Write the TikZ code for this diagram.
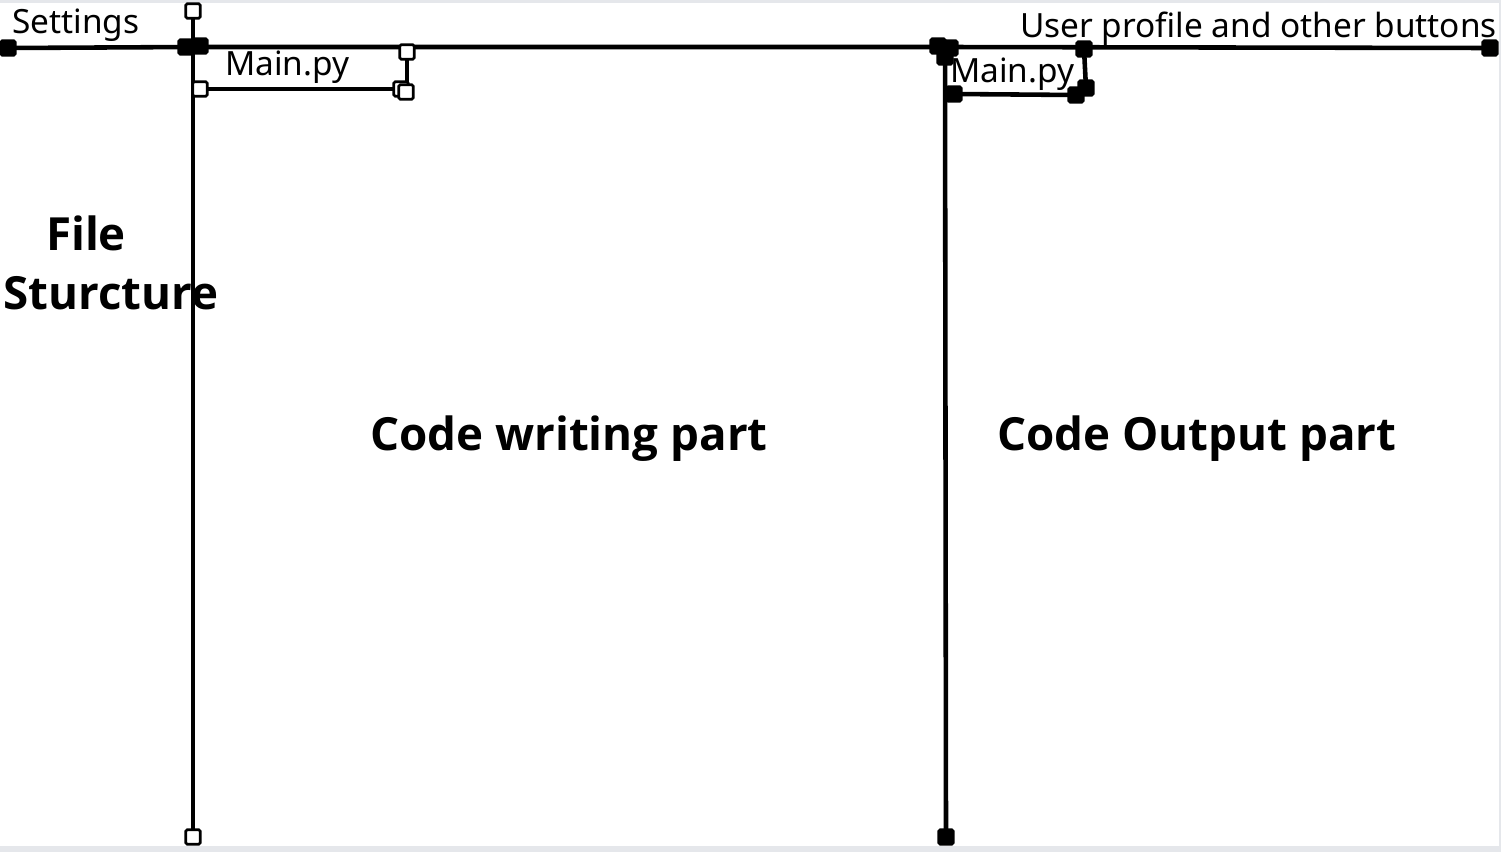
\documentclass[tikz,border=0pt]{standalone}
\usepackage{fontspec}
\setmainfont{Noto Sans}
\newfontfamily\heavy{Open Sans}
\usepackage{tikz}

\definecolor{edgegray}{HTML}{E5E7EB}
\tikzset{
  wire/.style={line width=2.6pt},
  grip/.style={draw, fill=black, line width=1.5pt, rectangle, rounded corners=0.8pt, minimum size=0.29cm, inner sep=0pt},
  gripo/.style={grip, fill=white},
  small/.style={inner sep=0pt, font=\fontsize{19}{21}\selectfont},
  big/.style={inner sep=0pt, font=\heavy\bfseries\fontsize{26}{30}\selectfont}
}

\begin{document}
\begin{tikzpicture}[x=0.02cm,y=-0.02cm]
 \fill[edgegray] (0,0) rectangle (1501,852);
 \fill[white] (0,3) rectangle (1499,846);
 \useasboundingbox (0,0) rectangle (1501,852);
 % top bar
 \coordinate (tl) at (8,48); \coordinate (tm) at (193,47);
 \coordinate (tr) at (945,47); \coordinate (te) at (1490,48);
 \draw[wire] (tl) -- (tm) -- (tr) -- (te);
 % left divider
 \coordinate (lt) at (193,11); \coordinate (lb) at (193,837);
 \draw[wire] (lt) -- (lb);
 % right divider
 \coordinate (rb) at (946,837);
 \draw[wire] (tr) -- (rb);
 % left tab
 \coordinate (ta) at (200,89); \coordinate (tb) at (405,89); \coordinate (tc) at (407,52);
 \draw[wire] (ta) -- (tb); \draw[wire] (tc) -- (407,92);
 % right tab
 \coordinate (ua) at (954,94); \coordinate (ub) at (1076,95);
 \coordinate (uc) at (1084,49); \coordinate (ud) at (1086,88);
 \draw[wire] (ua) -- (ub); \draw[wire] (uc) -- (ud);
 % grips
 \node[grip] at (tl) {}; \node[grip] at (186,47) {}; \node[grip] at (200,46) {};
 \node[grip] at (938,46) {}; \node[grip] at (950,48) {}; \node[grip] at (945,57) {};
 \node[grip] at (te) {}; \node[grip] at (uc) {}; \node[grip] at (ud) {};
 \node[grip] at (ub) {}; \node[grip] at (ua) {}; \node[grip] at (rb) {};
 \node[gripo] at (lt) {}; \node[gripo] at (lb) {}; \node[gripo] at (tc) {};
 \node[gripo] at (ta) {}; \node[gripo] at (401,89) {}; \node[gripo] at (406,92) {};
 % labels
 \node[small, anchor=base west] (settings) at (12,33) {Settings};
 \node[small, anchor=base west] (tab1) at (225,75) {Main.py};
 \node[small, anchor=base west] (tab2) at (950,82) {Main.py};
 \node[small, anchor=base east] (user) at (1497,37) {User profile and other buttons};
 \node[big] (file) at (86,233) {File};
 \node[big] (struct) at (111,293) {Sturcture};
 \node[big] (write) at (569,439) {Code writing part};
 \node[big] (out) at (1197,439) {Code Output part};
\end{tikzpicture}
\end{document}
